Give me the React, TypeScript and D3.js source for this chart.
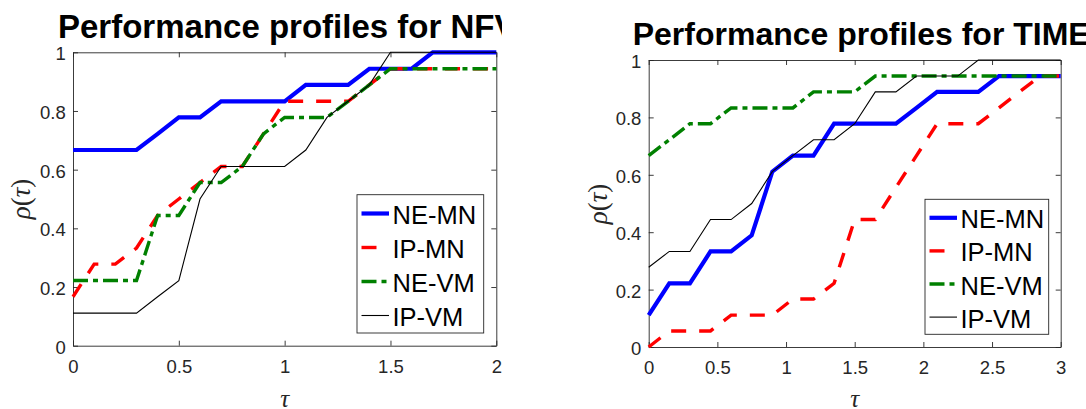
import * as d3 from "d3";
import { useEffect, useRef } from "react";

// tau grids
const nfvTau = [0, 0.1, 0.2, 0.3, 0.4, 0.5, 0.6, 0.7, 0.8, 0.9, 1, 1.1, 1.2, 1.3, 1.4, 1.5, 1.6, 1.7, 1.8, 1.9, 2];
const timeTau = [0, 0.15, 0.3, 0.45, 0.6, 0.75, 0.9, 1.05, 1.2, 1.35, 1.5, 1.65, 1.8, 1.95, 2.1, 2.25, 2.4, 2.55, 2.7, 2.85, 3];

// NFV profiles
const nfvNeMn = [0.667, 0.667, 0.667, 0.667, 0.722, 0.778, 0.778, 0.833, 0.833, 0.833, 0.833, 0.889, 0.889, 0.889, 0.944, 0.944, 0.944, 1, 1, 1, 1];
const nfvIpMn = [0.167, 0.278, 0.278, 0.333, 0.444, 0.5, 0.556, 0.611, 0.611, 0.722, 0.833, 0.833, 0.833, 0.833, 0.889, 0.944, 0.944, 0.944, 0.944, 0.944, 0.944];
const nfvNeVm = [0.222, 0.222, 0.222, 0.222, 0.444, 0.444, 0.556, 0.556, 0.611, 0.722, 0.778, 0.778, 0.778, 0.833, 0.889, 0.944, 0.944, 0.944, 0.944, 0.944, 0.944];
const nfvIpVm = [0.111, 0.111, 0.111, 0.111, 0.167, 0.222, 0.5, 0.611, 0.611, 0.611, 0.611, 0.667, 0.778, 0.833, 0.889, 1, 1, 1, 1, 1, 1];

// TIME profiles
const timeNeMn = [0.111, 0.222, 0.222, 0.333, 0.333, 0.389, 0.611, 0.667, 0.667, 0.778, 0.778, 0.778, 0.778, 0.833, 0.889, 0.889, 0.889, 0.944, 0.944, 0.944, 0.944];
const timeIpMn = [0, 0.056, 0.056, 0.056, 0.111, 0.111, 0.111, 0.167, 0.167, 0.222, 0.444, 0.444, 0.556, 0.667, 0.778, 0.778, 0.778, 0.833, 0.889, 0.944, 0.944];
const timeNeVm = [0.667, 0.722, 0.778, 0.778, 0.833, 0.833, 0.833, 0.833, 0.889, 0.889, 0.889, 0.944, 0.944, 0.944, 0.944, 0.944, 0.944, 0.944, 0.944, 0.944, 0.944];
const timeIpVm = [0.278, 0.333, 0.333, 0.444, 0.444, 0.5, 0.611, 0.667, 0.722, 0.722, 0.778, 0.889, 0.889, 0.944, 0.944, 0.944, 1, 1, 1, 1, 1];

const seriesNames = ["NE-MN", "IP-MN", "NE-VM", "IP-VM"];
const nfvXTicks = [0, 0.5, 1, 1.5, 2];
const timeXTicks = [0, 0.5, 1, 1.5, 2, 2.5, 3];
const yTicks = [0, 0.2, 0.4, 0.6, 0.8, 1];

// line styles, same order as seriesNames
const styles = [
  { color: "#0000ff", width: 4.2, dash: null },
  { color: "#ff0000", width: 3.4, dash: "15,13" },
  { color: "#008000", width: 3.4, dash: "15,5,5,5" },
  { color: "#000000", width: 1.1, dash: null },
];

const axisColor = "#262626";
const sans = "'Liberation Sans', Arial, Helvetica, sans-serif";
const serif = "'Liberation Serif', 'Times New Roman', serif";

const panels = [
  {
    title: "Performance profiles for NFV",
    tau: nfvTau,
    values: [nfvNeMn, nfvIpMn, nfvNeVm, nfvIpVm],
    xDomain: [0, 2],
    xTicks: nfvXTicks,
    left: 73, right: 496.3, top: 52.3, bottom: 345.7,
    titleX: 58, titleY: 37.7, titleSize: 33, clip: "clipNfv",
    yLabelX: 30, yLabelY: 199,
    legend: { x: 357, y: 194.7, w: 126.7, h: 138.3, first: 29.3, step: 34 },
  },
  {
    title: "Performance profiles for TIME",
    tau: timeTau,
    values: [timeNeMn, timeIpMn, timeNeVm, timeIpVm],
    xDomain: [0, 3],
    xTicks: timeXTicks,
    left: 648.7, right: 1060.7, top: 60, bottom: 347,
    titleX: 632.7, titleY: 45, titleSize: 32, clip: null,
    yLabelX: 606.5, yLabelY: 204,
    legend: { x: 925, y: 199.3, w: 123.7, h: 135, first: 29, step: 33.1 },
  },
];

const Panel = ({ cfg }) => {
  const ref = useRef(null);

  useEffect(() => {
    const g = d3.select(ref.current);
    g.selectAll("*").remove();

    const x = d3.scaleLinear().domain(cfg.xDomain).range([cfg.left, cfg.right]);
    const y = d3.scaleLinear().domain([0, 1]).range([cfg.bottom, cfg.top]);

    // white plot background
    g.append("rect")
      .attr("x", cfg.left).attr("y", cfg.top)
      .attr("width", cfg.right - cfg.left).attr("height", cfg.bottom - cfg.top)
      .attr("fill", "#fff");

    const styleAxis = (a) => a
      .attr("color", axisColor)
      .attr("font-family", sans)
      .attr("font-size", 18.5)
      .call(s => s.selectAll("path,line").attr("stroke-width", 0.9));

    // axes with inward ticks on all four sides
    g.append("g")
      .attr("transform", `translate(0,${cfg.bottom})`)
      .call(d3.axisBottom(x).tickValues(cfg.xTicks).tickSizeInner(-5).tickSizeOuter(0).tickPadding(14).tickFormat(d => String(d)))
      .call(styleAxis);
    g.append("g")
      .attr("transform", `translate(0,${cfg.top})`)
      .call(d3.axisTop(x).tickValues(cfg.xTicks).tickSizeInner(-5).tickSizeOuter(0).tickFormat(() => ""))
      .call(styleAxis);
    g.append("g")
      .attr("transform", `translate(${cfg.left},0)`)
      .call(d3.axisLeft(y).tickValues(yTicks).tickSizeInner(-5).tickSizeOuter(0).tickPadding(7.3).tickFormat(d => String(d)))
      .call(styleAxis)
      .selectAll("text").attr("dy", "0.4em");
    g.append("g")
      .attr("transform", `translate(${cfg.right},0)`)
      .call(d3.axisRight(y).tickValues(yTicks).tickSizeInner(-5).tickSizeOuter(0).tickFormat(() => ""))
      .call(styleAxis);

    // profile curves
    const line = d3.line<number>()
      .x((_, i) => x(cfg.tau[i]))
      .y(d => y(d));
    cfg.values.forEach((vals, k) => {
      const st = styles[k];
      g.append("path")
        .attr("d", line(vals))
        .attr("fill", "none")
        .attr("stroke", st.color)
        .attr("stroke-width", st.width)
        .attr("stroke-dasharray", st.dash);
    });

    // legend
    const L = cfg.legend;
    const lg = g.append("g");
    lg.append("rect")
      .attr("x", L.x).attr("y", L.y).attr("width", L.w).attr("height", L.h)
      .attr("fill", "#fff").attr("stroke", axisColor).attr("stroke-width", 0.9);
    seriesNames.forEach((name, k) => {
      const st = styles[k];
      const base = L.y + L.first + k * L.step;
      lg.append("line")
        .attr("x1", L.x + 4.5).attr("x2", L.x + 32)
        .attr("y1", base - 10.5).attr("y2", base - 10.5)
        .attr("stroke", st.color)
        .attr("stroke-width", st.width)
        .attr("stroke-dasharray", st.dash);
      lg.append("text")
        .attr("x", L.x + 35.5).attr("y", base)
        .attr("font-family", sans).attr("font-size", 25.5)
        .attr("fill", "#000")
        .text(name);
    });

    // title
    g.append("text")
      .attr("x", cfg.titleX).attr("y", cfg.titleY)
      .attr("font-family", sans).attr("font-size", cfg.titleSize).attr("font-weight", "bold")
      .attr("fill", "#000")
      .attr("clip-path", cfg.clip ? `url(#${cfg.clip})` : null)
      .text(cfg.title);

    // axis labels
    const yl = g.append("text")
      .attr("transform", `translate(${cfg.yLabelX},${cfg.yLabelY}) rotate(-90)`)
      .attr("text-anchor", "middle")
      .attr("font-family", serif).attr("font-size", 27).attr("fill", axisColor);
    yl.append("tspan").attr("font-style", "italic").text("ρ");
    yl.append("tspan").text("(");
    yl.append("tspan").attr("font-style", "italic").text("τ");
    yl.append("tspan").text(")");

    g.append("text")
      .attr("x", (cfg.left + cfg.right) / 2).attr("y", 407)
      .attr("text-anchor", "middle")
      .attr("font-family", serif).attr("font-size", 25).attr("font-style", "italic")
      .attr("fill", axisColor)
      .text("τ");
  }, [cfg]);

  return <g ref={ref} />;
};

export default function App() {
  return (
    <svg width={1086} height={409} style={{ position: "absolute", left: 0, top: 0, background: "#fff" }}>
      <defs>
        <clipPath id="clipNfv">
          <rect x={0} y={0} width={502} height={409} />
        </clipPath>
      </defs>
      <rect x={0} y={0} width={1086} height={409} fill="#fff" />
      {panels.map((p, i) => <Panel key={i} cfg={p} />)}
    </svg>
  );
}
